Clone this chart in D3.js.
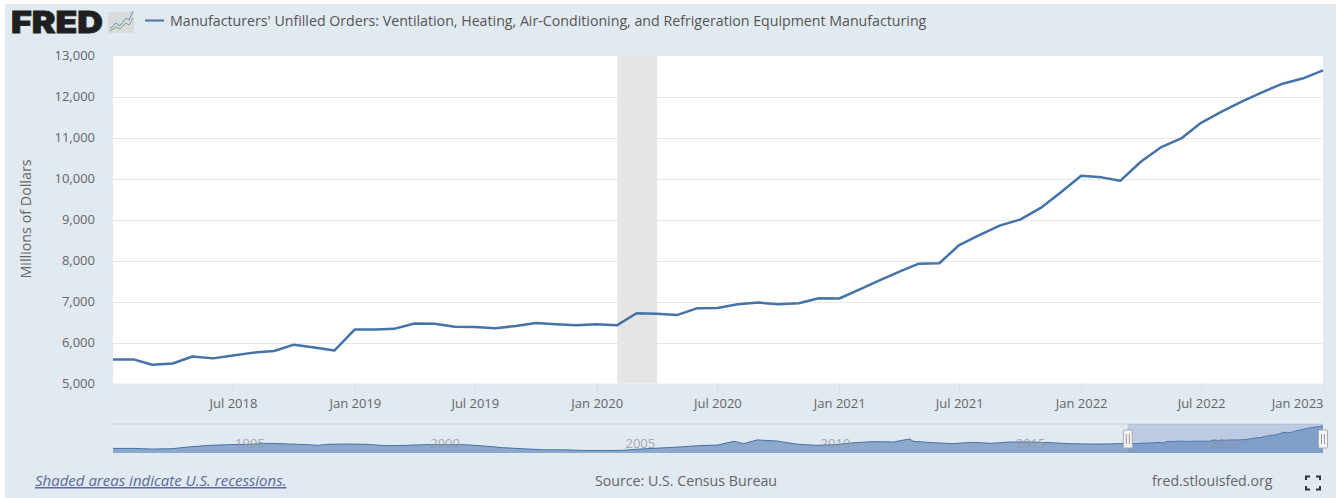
<!DOCTYPE html>
<html lang="en">
  <head>
    <meta charset="UTF-8" />
    <title>FRED - Unfilled Orders</title>
    <script src="https://cdn.jsdelivr.net/npm/d3@7"></script>
    <style>
      html, body { margin: 0; padding: 0; background: #fff; }
      svg { display: block; }
      text { font-family: "Open Sans", sans-serif; fill: #666; }
    </style>
  </head>
  <body>
    <svg width="1339" height="498"></svg>
    <script>
      // monthly values, Jan 2018 .. Jan 2023 (millions of dollars)
      const orders = [
        5600, 5600, 5470, 5500, 5670, 5625, 5695, 5765, 5805, 5960, 5890, 5815,
        6330, 6330, 6345, 6475, 6470, 6395, 6390, 6360, 6415, 6490, 6460, 6435,
        6455, 6435, 6725, 6715, 6680, 6850, 6855, 6945, 6985, 6945, 6970, 7090,
        7085, 7310, 7515, 7735, 7935, 7945, 8390, 8635, 8870, 9010, 9295, 9670,
        10080, 10040, 9955, 10420, 10770, 10990, 11370, 11645, 11895, 12115, 12325, 12450,
        12650,
      ];
      const recession = [new Date(2020, 1, 1), new Date(2020, 3, 1)];

      const yTicks = [5000, 6000, 7000, 8000, 9000, 10000, 11000, 12000, 13000];
      const xTicks = [
        new Date(2018, 6, 1), new Date(2019, 0, 1), new Date(2019, 6, 1), new Date(2020, 0, 1),
        new Date(2020, 6, 1), new Date(2021, 0, 1), new Date(2021, 6, 1), new Date(2022, 0, 1),
        new Date(2022, 6, 1), new Date(2023, 0, 1),
      ];

      // navigator: long history before the selected window, in decimal years
      const navYears = [
        1992, 1992.5, 1993, 1993.5, 1994, 1994.5, 1995, 1995.5, 1996, 1996.5, 1997, 1997.25, 1997.5,
        1998, 1998.5, 1999, 1999.5, 2000, 2000.5, 2001, 2001.5, 2002, 2002.5, 2003, 2003.5, 2004,
        2004.5, 2005, 2005.5, 2006, 2006.5, 2007, 2007.5, 2007.9, 2008.2, 2008.5, 2009, 2009.5,
        2010, 2010.5, 2011, 2011.5, 2012, 2012.4, 2012.5, 2013, 2013.5, 2014, 2014.5, 2015,
        2015.5, 2016, 2016.5, 2017, 2017.5,
      ];
      const navValues = [
        3530, 3530, 3250, 3390, 4220, 4770, 5050, 5190, 5600, 5320, 5050, 4770, 5190,
        5320, 5190, 4630, 4770, 5050, 5050, 5050, 4500, 3800, 3390, 2980, 2980, 2700,
        2700, 2700, 3250, 3670, 4080, 4630, 4910, 6430, 5460, 6980, 6570, 5320,
        4770, 5050, 5880, 6290, 6150, 7400, 6430, 5880, 5460, 6000, 5600, 6150,
        6150, 5880, 5460, 5320, 5320,
      ];
      const navTickYears = [1995, 2000, 2005, 2010, 2015, 2020];

      const title =
        "Manufacturers' Unfilled Orders: Ventilation, Heating, Air-Conditioning, and Refrigeration Equipment Manufacturing";

      const marge = { top: 56, bottom: 384, left: 113, right: 1323 };
      const blue = "#4572a7";
      const svg = d3.select("svg");

      const dates = orders.map((d, i) => new Date(2018, i, 1));
      const yearToDate = (y) => {
        const yr = Math.floor(y);
        return new Date(yr, Math.round((y - yr) * 12), 1);
      };

      // page background, the screenshot has a thin white edge
      svg.append("rect").attr("x", 5).attr("y", 4).attr("width", 1331).attr("height", 494).attr("fill", "#e1e9f1");

      // logo
      const logo = svg.append("g");
      logo.append("text")
        .attr("x", 11).attr("y", 33)
        .attr("textLength", 92).attr("lengthAdjust", "spacingAndGlyphs")
        .style("font-family", "Inter, sans-serif").style("font-weight", 900).style("font-size", "30px")
        .style("fill", "#1f1f21").style("stroke", "#1f1f21").style("stroke-width", 0.8)
        .text("FRED");
      logo.append("rect").attr("x", 108).attr("y", 12).attr("width", 26).attr("height", 21).attr("fill", "#d9dcdc");
      logo.append("path").attr("d", "M110,29 L116,23 L120,26 L126,18 L129,20 L133,11")
        .attr("fill", "none").attr("stroke", "#6d8fb5").attr("stroke-width", 1);
      logo.append("path").attr("d", "M110,31 L116,27 L120,29 L126,23 L129,25 L133,18")
        .attr("fill", "none").attr("stroke", "#7ea86a").attr("stroke-width", 1);

      // legend + title
      svg.append("line").attr("x1", 145).attr("x2", 164).attr("y1", 20.5).attr("y2", 20.5)
        .attr("stroke", blue).attr("stroke-width", 2);
      svg.append("text").attr("x", 170).attr("y", 26).style("font-size", "14.2px").style("fill", "#555").text(title);

      // main chart
      const xScale = d3.scaleTime().domain([dates[0], dates[dates.length - 1]]).range([marge.left, marge.right]);
      const yScale = d3.scaleLinear().domain([5000, 13000]).range([marge.bottom, marge.top]);

      svg.append("rect")
        .attr("x", marge.left).attr("y", marge.top)
        .attr("width", marge.right - marge.left).attr("height", marge.bottom - marge.top - 0.5)
        .attr("fill", "#fff");

      const yAxis = svg.append("g")
        .attr("transform", `translate(${marge.left},0)`)
        .call(d3.axisLeft(yScale).tickValues(yTicks).tickFormat(d3.format(",")).tickSize(-(marge.right - marge.left)).tickPadding(18));
      yAxis.select(".domain").remove();
      yAxis.selectAll("line").attr("stroke", "#e6e6e6");
      yAxis.selectAll("line").filter((d) => d === 5000 || d === 13000).attr("stroke", "none");
      yAxis.selectAll("text").style("font-size", "13px").attr("dy", "0.25em");

      svg.append("rect")
        .attr("x", xScale(recession[0])).attr("y", marge.top)
        .attr("width", xScale(recession[1]) - xScale(recession[0])).attr("height", marge.bottom - marge.top - 0.5)
        .attr("fill", "#e5e5e5");

      const xAxis = svg.append("g")
        .attr("transform", `translate(0,${marge.bottom - 1})`)
        .call(d3.axisBottom(xScale).tickValues(xTicks).tickFormat(d3.timeFormat("%b %Y")).tickSize(10).tickPadding(6));
      xAxis.select(".domain").remove();
      xAxis.selectAll("line").attr("stroke", "#d5dfe9");
      xAxis.selectAll("text").style("font-size", "13px");
      xAxis.selectAll("text").filter((d, i) => i === xTicks.length - 1).attr("text-anchor", "end");

      svg.append("text")
        .attr("transform", "translate(31,219) rotate(-90)")
        .attr("text-anchor", "middle").style("font-size", "14.3px")
        .text("Millions of Dollars");

      const line = d3.line().x((d, i) => xScale(dates[i])).y((d) => yScale(d));
      svg.append("path").datum(orders).attr("d", line)
        .attr("fill", "none").attr("stroke", blue).attr("stroke-width", 2.5).attr("stroke-linejoin", "round");

      // navigator
      const nav = { top: 424, bottom: 453 };
      const navDates = navYears.map(yearToDate).concat(dates);
      const navAll = navValues.concat(orders);
      const navX = d3.scaleTime().domain([new Date(1992, 0, 1), dates[dates.length - 1]]).range([marge.left, marge.right]);
      const navY = d3.scaleLinear().domain([1650, 13480]).range([nav.bottom, nav.top]);

      svg.append("line").attr("x1", marge.left).attr("x2", marge.right).attr("y1", nav.top).attr("y2", nav.top)
        .attr("stroke", "#d3d9df").attr("stroke-width", 1.5);

      const navArea = d3.area().x((d, i) => navX(navDates[i])).y0(nav.bottom).y1((d) => navY(d));
      const navLine = d3.line().x((d, i) => navX(navDates[i])).y((d) => navY(d));
      svg.append("path").datum(navAll).attr("d", navArea).attr("fill", "#8ca9cb");
      svg.append("path").datum(navAll).attr("d", navLine).attr("fill", "none").attr("stroke", blue).attr("stroke-width", 1);

      svg.selectAll(".navTick").data(navTickYears).enter().append("text")
        .attr("class", "navTick")
        .attr("x", (d) => navX(new Date(d, 0, 1)) + 5)
        .attr("y", nav.top + 24)
        .style("font-size", "13px").style("fill", "#999").style("opacity", 0.8)
        .text((d) => d);

      // selected window
      const selX = [navX(dates[0]), navX(dates[dates.length - 1])];
      svg.append("rect")
        .attr("x", selX[0]).attr("y", nav.top).attr("width", selX[1] - selX[0]).attr("height", nav.bottom - nav.top)
        .attr("fill", "#6685c2").attr("fill-opacity", 0.3);

      const handles = svg.selectAll(".handle").data(selX).enter().append("g")
        .attr("class", "handle").attr("transform", (d) => `translate(${d},0)`);
      handles.append("rect").attr("x", -4.5).attr("y", 430).attr("width", 9).attr("height", 18).attr("rx", 1)
        .attr("fill", "#f4f4f4").attr("stroke", "#aaa");
      handles.append("path").attr("d", "M-1.5,434 V444 M1.5,434 V444").attr("stroke", "#999").attr("fill", "none");

      // footer
      svg.append("text").attr("x", 35).attr("y", 486)
        .style("font-size", "15px").style("font-style", "italic").style("text-decoration", "underline")
        .style("fill", "#5a6b9c").text("Shaded areas indicate U.S. recessions.");
      svg.append("text").attr("x", 595).attr("y", 486).style("font-size", "14.2px").text("Source: U.S. Census Bureau");
      svg.append("text").attr("x", 1152).attr("y", 486).style("font-size", "14.1px").text("fred.stlouisfed.org");

      // full screen icon
      svg.append("path")
        .attr("d", "M1306,480 V476.5 H1310 M1316,476.5 H1320 V480 M1320,486 V489.5 H1316 M1310,489.5 H1306 V486")
        .attr("fill", "none").attr("stroke", "#333").attr("stroke-width", 2);
    </script>
  </body>
</html>
